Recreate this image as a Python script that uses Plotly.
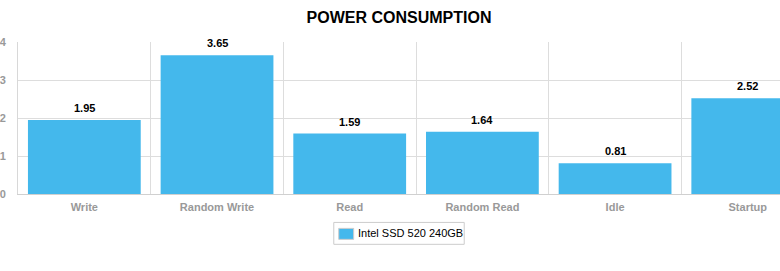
import plotly.graph_objects as go

categories = ["Write", "Random Write", "Read", "Random Read", "Idle", "Startup"]
values = [1.95, 3.65, 1.59, 1.64, 0.81, 2.52]
labels = ["1.95", "3.65", "1.59", "1.64", "0.81", "2.52"]
series_name = "Intel SSD 520 240GB"
y_ticks = [0, 1, 2, 3, 4]
bar_color = "#44B8EC"
font_family = "Liberation Sans, Arial, sans-serif"

fig = go.Figure()
fig.add_trace(go.Bar(
    x=categories, y=values, name=series_name,
    marker=dict(color=bar_color, line=dict(width=0)),
    showlegend=False,
))

# value labels above bars
for c, v, t in zip(categories, values, labels):
    fig.add_annotation(x=c, y=v, text=t, showarrow=False, yanchor="bottom", yshift=4,
                       font=dict(family=font_family, size=11, color="#000", weight="bold"))

# legend box (drawn in paper coordinates)
fig.add_shape(type="rect", xref="paper", yref="paper", x0=0.4144, x1=0.5856, y0=-0.3311, y1=-0.1869,
              line=dict(color="#CCCCCC", width=1), fillcolor="white", layer="above")
fig.add_shape(type="rect", xref="paper", yref="paper", x0=0.4209, x1=0.4405, y0=-0.2984, y1=-0.2262,
              line=dict(color="#CCCCCC", width=1), fillcolor=bar_color, layer="above")
fig.add_annotation(xref="paper", yref="paper", x=0.4431, y=-0.259, xanchor="left", yanchor="middle",
                   text=series_name, showarrow=False,
                   font=dict(family=font_family, size=11, color="#000"))

fig.update_layout(
    width=780, height=271,
    margin=dict(l=15, r=0, t=42, b=76.5),
    paper_bgcolor="white", plot_bgcolor="white",
    bargap=0.15,
    showlegend=False,
    title=dict(text="POWER CONSUMPTION", x=0.5, xref="paper", xanchor="center",
               y=1 - 17 / 271, yref="container", yanchor="middle",
               font=dict(family=font_family, size=16, color="#000", weight="bold")),
    font=dict(family=font_family),
    xaxis=dict(range=[-0.5, 5.243], tickson="boundaries", showgrid=True, gridcolor="#DDDDDD",
               gridwidth=1, ticks="", showline=True, linecolor="#D0D0D0", linewidth=1,
               ticklabelstandoff=3,
               tickfont=dict(size=11, color="#999999", weight="bold"), fixedrange=True),
    yaxis=dict(range=[0, 4], tickvals=y_ticks, showgrid=True, gridcolor="#DDDDDD", gridwidth=1,
               zeroline=False, showline=True, linecolor="#D8D8D8", linewidth=1, ticks="",
               ticklabelstandoff=9,
               tickfont=dict(size=11, color="#999999", weight="bold")),
)

fig.write_html("out.html")
